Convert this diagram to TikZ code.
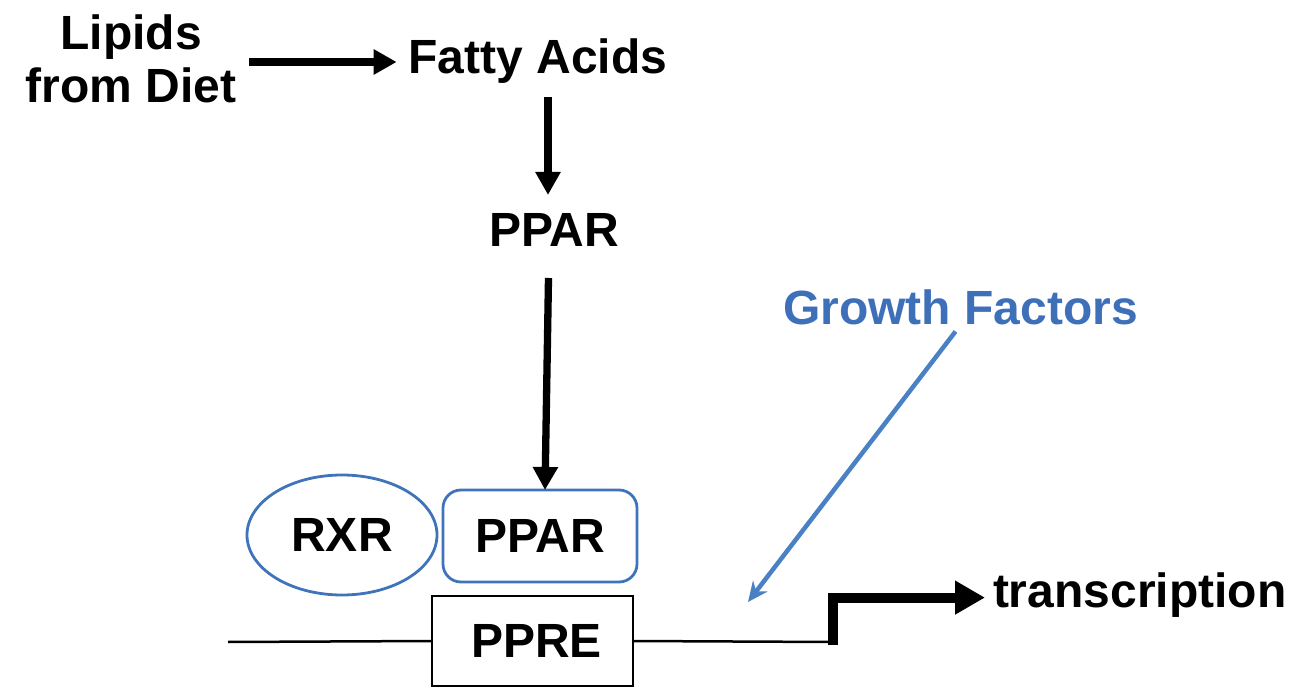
\documentclass[tikz,border=0pt]{standalone}
\usepackage{fontspec}
\setmainfont{Liberation Sans}
\usetikzlibrary{arrows.meta,calc,shapes.geometric}
\definecolor{gfblue}{RGB}{62,112,186}
\definecolor{arrblue}{RGB}{74,128,196}
\definecolor{boxblue}{RGB}{64,116,186}
\tikzset{
  lbl/.style={font=\fontsize{48}{53}\selectfont\bfseries, inner sep=0pt, outer sep=0pt},
  blk/.style={line width=7.3pt, -{Triangle[length=23pt,width=24pt]}},
  dna/.style={line width=2.5pt},
  bigarr/.style={line width=10pt, -{Triangle[length=30pt,width=32pt]}},
  gfarr/.style={line width=4.5pt, arrblue, -{Stealth[length=20pt,width=18pt]}},
  bluebox/.style={draw=boxblue, line width=2.8pt},
}
\begin{document}
\begin{tikzpicture}[x=1pt,y=1pt]
\useasboundingbox (0,0) rectangle (1307,-700);
% nodes
\node[lbl, align=center] (lipids) at (131,-59) {Lipids\\from Diet};
\node[lbl, anchor=base] (fatty) at (538,-74) {Fatty Acids};
\node[lbl, anchor=base] (ppar1) at (554,-247) {PPAR};
\node[lbl, bluebox, ellipse, minimum width=190pt, minimum height=120pt] (rxr) at (342,-535) {RXR};
\node[lbl, bluebox, rounded corners=18pt, minimum width=194pt, minimum height=92pt] (ppar2) at (540,-536) {PPAR};
\node[lbl, draw=black, line width=2.5pt, minimum width=201pt, minimum height=90pt] (ppre) at (532.5,-641) {\hspace*{8pt}PPRE};
\node[lbl, anchor=base west] (trans) at (993,-607) {transcription};
\node[lbl, anchor=base, text=gfblue] (growth) at (960.5,-325) {Growth Factors};
\coordinate (dnaL) at (228,-642);
\coordinate (stepc) at (833,-642);
\coordinate (gftip) at (748,-602);
% connectors
\draw[blk, shorten <=13pt, shorten >=12pt] (lipids.east |- 0,-62) -- (lipids.east |- 0,-62 -| fatty.west);
\draw[blk, shorten <=13pt, shorten >=19pt] ([xshift=10pt]fatty.south) -- ([xshift=10pt]fatty.south |- ppar1.north);
\draw[blk, shorten <=31pt] ([xshift=-5pt]ppar1.south) -- ([xshift=5pt]ppar2.north);
\draw[dna] (dnaL) -- (ppre.west);
\draw[dna] (ppre.east) -- (stepc);
\draw[bigarr, shorten >=8pt] ([yshift=-3pt]stepc) |- ([yshift=-3pt]trans.west);
\draw[gfarr] ([xshift=-5pt,yshift=-6pt]growth.south) -- (gftip);
\end{tikzpicture}
\end{document}
